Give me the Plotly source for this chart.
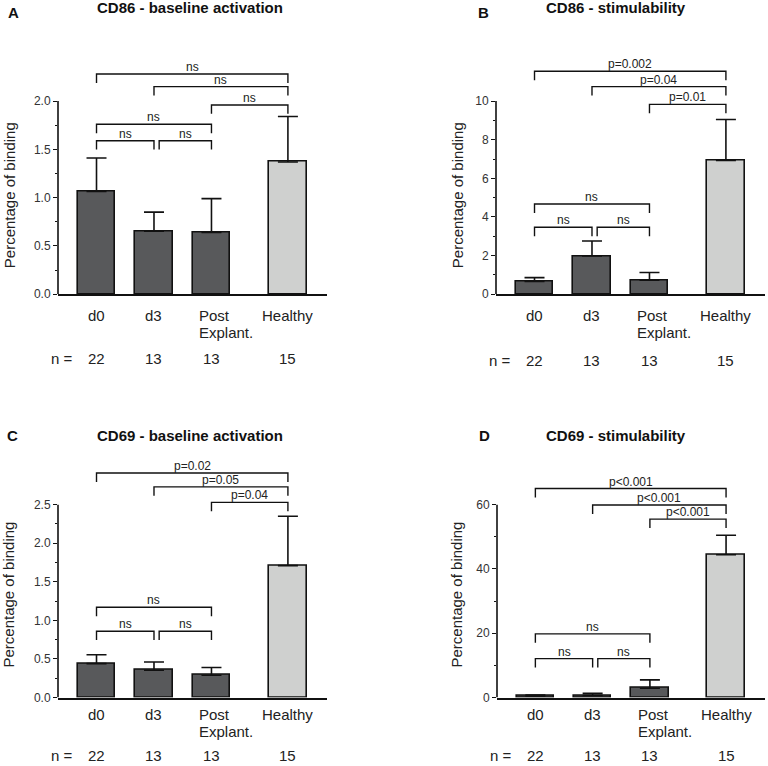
import plotly.graph_objects as go

W, H = 768, 766
FONT = "Liberation Sans, Arial, sans-serif"
TXT = "#222222"

# ---------------- data ----------------
groups = ["d0", "d3", "Post Explant.", "Healthy"]
group_pos = [0, 1, 2, 3.33]
n_counts = ["22", "13", "13", "15"]
bar_colors = ["#58595b", "#58595b", "#58595b", "#cfd0cf"]

panel_letters = ["A", "B", "C", "D"]
panel_titles = ["CD86 - baseline activation", "CD86 - stimulability",
                "CD69 - baseline activation", "CD69 - stimulability"]

cd86_base_mean = [1.065, 0.654, 0.64, 1.37]
cd86_base_sem = [0.345, 0.196, 0.35, 0.47]
cd86_stim_mean = [0.66, 1.98, 0.73, 6.93]
cd86_stim_sem = [0.2, 0.78, 0.4, 2.12]
cd69_base_mean = [0.44, 0.355, 0.29, 1.71]
cd69_base_sem = [0.115, 0.105, 0.1, 0.64]
cd69_stim_mean = [0.4, 0.65, 2.9, 44.4]
cd69_stim_sem = [0.4, 0.65, 2.6, 6.1]

y_major = [[0, 0.5, 1.0, 1.5, 2.0], [0, 2, 4, 6, 8, 10],
           [0, 0.5, 1.0, 1.5, 2.0, 2.5], [0, 20, 40, 60]]
y_minor = [[0.25, 0.75, 1.25, 1.75], [1, 3, 5, 7, 9],
           [0.25, 0.75, 1.25, 1.75, 2.25], [10, 30, 50]]
y_ticktext = [["0.0", "0.5", "1.0", "1.5", "2.0"], ["0", "2", "4", "6", "8", "10"],
              ["0.0", "0.5", "1.0", "1.5", "2.0", "2.5"], ["0", "20", "40", "60"]]

# brackets: (group i, group j, height, label)
brackets_A = [(0, 3, 2.28, "ns"), (1, 3, 2.15, "ns"), (2, 3, 1.96, "ns"),
              (0, 2, 1.76, "ns"), (0, 1, 1.59, "ns"), (1, 2, 1.59, "ns")]
brackets_B = [(0, 3, 11.54, "p=0.002"), (1, 3, 10.75, "p=0.04"), (2, 3, 9.83, "p=0.01"),
              (0, 2, 4.67, "ns"), (0, 1, 3.47, "ns"), (1, 2, 3.47, "ns")]
brackets_C = [(0, 3, 2.91, "p=0.02"), (1, 3, 2.73, "p=0.05"), (2, 3, 2.53, "p=0.04"),
              (0, 2, 1.17, "ns"), (0, 1, 0.86, "ns"), (1, 2, 0.86, "ns")]
brackets_D = [(0, 3, 65.0, "p<0.001"), (1, 3, 59.9, "p<0.001"), (2, 3, 55.5, "p<0.001"),
              (0, 2, 19.8, "ns"), (0, 1, 12.1, "ns"), (1, 2, 12.1, "ns")]

means = [cd86_base_mean, cd86_stim_mean, cd69_base_mean, cd69_stim_mean]
sems = [cd86_base_sem, cd86_stim_sem, cd69_base_sem, cd69_stim_sem]
brackets = [brackets_A, brackets_B, brackets_C, brackets_D]

# ---------------- layout geometry (pixels) ----------------
geo = [
    dict(x0=58, x1=327, y0=297, ytop=102, top=55, cat=18, exp=36, nrow=62,
         title=(190, 8), letter=(13, 13), ylab=(9, 197)),
    dict(x0=496, x1=765, y0=297, ytop=102, top=55, cat=18, exp=36, nrow=64,
         title=(616, 8), letter=(483, 13), ylab=(457, 197)),
    dict(x0=58, x1=327, y0=704, ytop=509.3, top=460, cat=14, exp=31, nrow=None,
         title=(190, 440), letter=(12, 440), ylab=(9, 600)),
    dict(x0=497, x1=765, y0=704, ytop=509.3, top=460, cat=14, exp=31, nrow=None,
         title=(616, 440), letter=(484, 440), ylab=(457, 600)),
]
XRANGE = [-0.67, 4.01]
TICK_PX = 9
TXT_SHIFT = -3

fig = go.Figure()
shapes = []
annotations = []


def nrow_pos(g):
    if g["nrow"] is None:
        return dict(yref="paper", y=0, yanchor="bottom", yshift=-7)
    return dict(yref="paper", y=1 - (g["y0"] + g["nrow"]) / H, yanchor="middle",
                yshift=TXT_SHIFT)


for k in range(4):
    g = geo[k]
    ax = "" if k == 0 else str(k + 1)
    xa, ya = "x" + ax, "y" + ax
    ymax = y_major[k][-1]
    ppu = (g["y0"] - g["ytop"]) / ymax  # pixels per unit
    yrange_top = (g["y0"] - g["top"]) / ppu

    fig.add_trace(go.Bar(
        x=group_pos, y=means[k], width=0.65,
        marker=dict(color=bar_colors, line=dict(color="#111111", width=1.6)),
        error_y=dict(type="data", symmetric=False, array=sems[k],
                     arrayminus=[0] * 4, width=10, thickness=1.6, color="#111111"),
        xaxis=xa, yaxis=ya, showlegend=False, hoverinfo="skip",
    ))

    fig.layout["xaxis" + ax] = dict(
        domain=[g["x0"] / W, g["x1"] / W], range=XRANGE,
        showline=True, linecolor="#111111", linewidth=1.6,
        showticklabels=False, ticks="", showgrid=False, zeroline=False,
        anchor=ya, fixedrange=True,
    )
    fig.layout["yaxis" + ax] = dict(
        domain=[1 - g["y0"] / H, 1 - g["top"] / H], range=[0, yrange_top],
        showline=False, showgrid=False, zeroline=False,
        tickmode="array", tickvals=y_major[k], ticktext=y_ticktext[k],
        ticks="outside", ticklen=4, tickwidth=1.3, tickcolor="#111111",
        minor=dict(tickvals=y_minor[k], ticks="outside", ticklen=2.5,
                   tickwidth=1.2, tickcolor="#111111"),
        tickfont=dict(family=FONT, size=12, color="#333333"),
        anchor=xa, fixedrange=True,
    )

    # y axis line only up to the axis maximum
    shapes.append(dict(type="line", xref=xa + " domain", yref=ya,
                       x0=0, x1=0, y0=0, y1=ymax,
                       line=dict(color="#111111", width=1.6)))

    # significance brackets
    tick = TICK_PX / ppu
    for (i, j, h, lab) in brackets[k]:
        xl = group_pos[i] + (0.09 if (i == 1 and j == 2) else 0.0)
        xr = group_pos[j]
        shapes.append(dict(type="path", xref=xa, yref=ya,
                           path=f"M {xl},{h - tick} L {xl},{h} L {xr},{h} L {xr},{h - tick}",
                           line=dict(color="#111111", width=1.4)))
        annotations.append(dict(xref=xa, yref=ya, x=(xl + xr) / 2, y=h,
                                text=lab, showarrow=False, yanchor="bottom",
                                yshift=-2,
                                font=dict(family=FONT, size=12, color=TXT)))

    # category labels
    for gi, name in enumerate(groups):
        if name == "Post Explant.":
            for txt, off in (("Post", g["cat"]), ("Explant.", g["exp"])):
                annotations.append(dict(xref=xa, yref="paper", x=group_pos[gi],
                                        y=1 - (g["y0"] + off) / H, yshift=TXT_SHIFT,
                                        xanchor="left", xshift=-14, yanchor="middle",
                                        text=txt, showarrow=False, align="left",
                                        font=dict(family=FONT, size=15, color=TXT)))
        else:
            annotations.append(dict(xref=xa, yref="paper", x=group_pos[gi],
                                    y=1 - (g["y0"] + g["cat"]) / H, yshift=TXT_SHIFT,
                                    xanchor="center", yanchor="middle",
                                    text=name, showarrow=False,
                                    font=dict(family=FONT, size=15, color=TXT)))
        annotations.append(dict(xref=xa, x=group_pos[gi], xanchor="center",
                                text=n_counts[gi], showarrow=False,
                                font=dict(family=FONT, size=15, color=TXT),
                                **nrow_pos(g)))
    annotations.append(dict(xref="paper", x=(g["x0"] + 4) / W, xanchor="center",
                            text="n =", showarrow=False,
                            font=dict(family=FONT, size=15, color=TXT),
                            **nrow_pos(g)))

    # titles, letters, y titles
    annotations.append(dict(xref="paper", yref="paper", x=g["title"][0] / W,
                            y=1 - g["title"][1] / H, xanchor="center", yanchor="middle",
                            text="<b>" + panel_titles[k] + "</b>", showarrow=False,
                            font=dict(family=FONT, size=15, color="#111111")))
    annotations.append(dict(xref="paper", yref="paper", x=g["letter"][0] / W,
                            y=1 - g["letter"][1] / H, xanchor="center", yanchor="middle",
                            text="<b>" + panel_letters[k] + "</b>", showarrow=False,
                            font=dict(family=FONT, size=15, color="#111111")))
    annotations.append(dict(xref="paper", yref="paper", x=g["ylab"][0] / W,
                            y=1 - g["ylab"][1] / H, xanchor="center", yanchor="middle",
                            text="Percentage of binding", textangle=-90, showarrow=False,
                            font=dict(family=FONT, size=15, color=TXT)))

fig.update_layout(
    width=W, height=H, margin=dict(l=0, r=0, t=0, b=0),
    paper_bgcolor="white", plot_bgcolor="white",
    shapes=shapes, annotations=annotations, bargap=0,
    font=dict(family=FONT, color=TXT),
)

fig.write_html("out.html", config={"displayModeBar": False},
               post_script="document.body.style.margin='0';document.body.style.overflow='hidden';")
